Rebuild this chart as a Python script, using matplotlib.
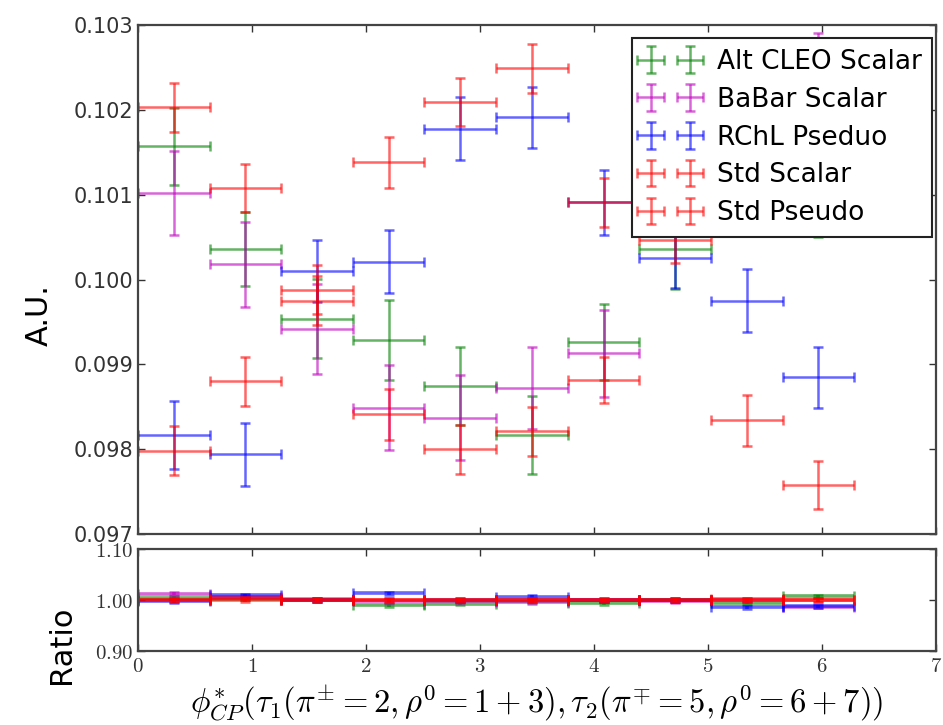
import numpy as np
import matplotlib
matplotlib.use("Agg")
import matplotlib.pyplot as plt

plt.rcParams['font.family'] = ['DejaVu Sans']
plt.rcParams['mathtext.fontset'] = 'cm'

# ---- data ----
bin_edges = np.linspace(0, 2 * np.pi, 11)
labels = ["Alt CLEO Scalar", "BaBar Scalar", "RChL Pseduo", "Std Scalar", "Std Pseudo"]
colors = ["g", "m", "b", "r", "r"]

alt_cleo = [0.10157, 0.10036, 0.09954, 0.09929, 0.09874, 0.09817, 0.09926, 0.10036, 0.10120, 0.10095]
alt_cleo_err = [0.00045, 0.00044, 0.00047, 0.00047, 0.00046, 0.00046, 0.00045, 0.00047, 0.00045, 0.00045]
babar = [0.10102, 0.10018, 0.09942, 0.09849, 0.09837, 0.09872, 0.09913, 0.10120, 0.10180, 0.10240]
babar_err = [0.00050, 0.00050, 0.00053, 0.00050, 0.00050, 0.00048, 0.00051, 0.00050, 0.00050, 0.00050]
rchl = [0.09817, 0.09794, 0.10010, 0.10021, 0.10178, 0.10191, 0.10091, 0.10025, 0.09975, 0.09885]
rchl_err = [0.00040, 0.00037, 0.00036, 0.00037, 0.00037, 0.00036, 0.00038, 0.00035, 0.00037, 0.00036]
std_scalar = [0.10203, 0.10108, 0.09975, 0.09841, 0.09800, 0.09821, 0.09882, 0.10100, 0.10160, 0.10220]
std_scalar_err = [0.00029, 0.00028, 0.00029, 0.00030, 0.00029, 0.00029, 0.00027, 0.00029, 0.00029, 0.00029]
std_pseudo = [0.09798, 0.09880, 0.09988, 0.10138, 0.10209, 0.10249, 0.10091, 0.10047, 0.09834, 0.09758]
std_pseudo_err = [0.00029, 0.00029, 0.00029, 0.00030, 0.00028, 0.00029, 0.00029, 0.00028, 0.00030, 0.00028]

ratio_alt_cleo = [1.004, 1.002, 1.000, 0.990, 0.993, 0.998, 0.994, 0.999, 0.995, 1.007]
ratio_babar = [1.012, 1.006, 1.001, 0.998, 0.998, 0.996, 0.999, 0.998, 0.999, 0.987]
ratio_rchl = [0.998, 1.009, 0.999, 1.013, 1.000, 1.006, 1.000, 1.000, 0.986, 0.988]
ratio_std_scalar = [1.000, 1.003, 1.000, 1.000, 1.000, 1.000, 1.000, 1.000, 1.001, 1.000]
ratio_std_pseudo = [1.000, 1.000, 1.000, 1.000, 0.999, 1.000, 0.999, 1.000, 1.000, 1.000]
ratio_err = 0.003

main_ticks = [0.097, 0.098, 0.099, 0.100, 0.101, 0.102, 0.103]
ratio_ticks = [0.90, 1.00, 1.10]
x_ticks = [0, 1, 2, 3, 4, 5, 6, 7]

series = [(alt_cleo, alt_cleo_err), (babar, babar_err), (rchl, rchl_err),
          (std_scalar, std_scalar_err), (std_pseudo, std_pseudo_err)]
ratios = [ratio_alt_cleo, ratio_babar, ratio_rchl, ratio_std_scalar, ratio_std_pseudo]

centers = 0.5 * (bin_edges[:-1] + bin_edges[1:])
half_w = 0.5 * np.diff(bin_edges)

fig = plt.figure(figsize=(9.43, 7.25), dpi=100)
ax = fig.add_axes([0.1463, 0.2634, 0.8463, 0.7021])
axr = fig.add_axes([0.1463, 0.1021, 0.8463, 0.1407])

for (vals, errs), c, lab in zip(series, colors, labels):
    ax.errorbar(centers, vals, xerr=half_w, yerr=errs, fmt='none', ecolor=c,
                alpha=0.6, elinewidth=1.8, capsize=3.5, capthick=1.8, label=lab)

for r, c in zip(ratios, colors):
    axr.errorbar(centers, r, xerr=half_w, yerr=ratio_err, fmt='none', ecolor=c,
                 alpha=0.6, elinewidth=2.6, capsize=3.5, capthick=1.8)

for a in (ax, axr):
    a.set_xlim(0, 7)
    a.set_xticks(x_ticks)
    a.tick_params(direction='in', top=True, right=True, length=5, width=1, colors='#333333')
    for s in a.spines.values():
        s.set_linewidth(1.6)
        s.set_color('#444444')

ax.set_ylim(0.097, 0.103)
ax.set_yticks(main_ticks)
ax.set_yticklabels(["%.3f" % t for t in main_ticks], fontsize=15, color='#333333')
ax.set_xticklabels([])
ax.set_ylabel("A.U.", fontsize=22)
ax.yaxis.set_label_coords(-0.105, 0.43)

axr.set_ylim(0.90, 1.10)
axr.set_yticks(ratio_ticks)
axr.set_yticklabels([r"$%.2f$" % t for t in ratio_ticks], fontsize=15, color='#333333')
axr.set_xticklabels([r"$%d$" % t for t in x_ticks], fontsize=15, color='#333333')
axr.set_ylabel("Ratio", fontsize=22)
axr.yaxis.set_label_coords(-0.078, 0.06)
axr.set_xlabel(r"$\phi^{*}_{CP}(\tau_1(\pi^{\pm}=2,\rho^0=1+3),\tau_2(\pi^{\mp}=5,\rho^0=6+7))$",
               fontsize=23.5, labelpad=5)

leg = ax.legend(loc='upper right', numpoints=2, fontsize=19, fancybox=False,
                framealpha=1.0, edgecolor='#222222', borderpad=0.4, labelspacing=0.45,
                handlelength=2.1, handletextpad=0.7, borderaxespad=0.0,
                bbox_to_anchor=(0.995, 0.974))
leg.get_frame().set_linewidth(1.5)

fig.savefig("out.png", dpi=100, facecolor='white')
